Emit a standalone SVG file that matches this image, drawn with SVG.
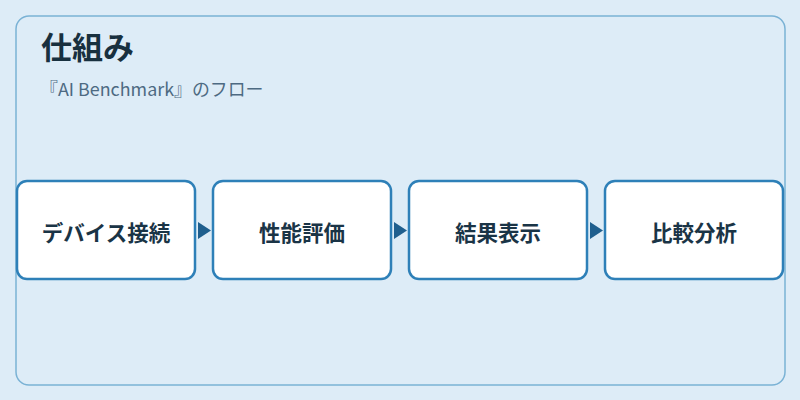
<svg xmlns="http://www.w3.org/2000/svg" width="800" height="400" viewBox="0 0 800 400">
<defs>
<style>
.node rect{fill:#ffffff;stroke:#2e80b8;stroke-width:2.5}
.node text{font-family:"Noto Sans CJK JP","Noto Sans",sans-serif;font-size:21.5px;font-weight:bold;fill:#1a3446;text-anchor:middle;dominant-baseline:central}
.arrow{fill:#1f5f8e}
</style>
</defs>
<rect width="800" height="400" fill="#ddecf7"/>
<rect x="16" y="16" width="769" height="369" rx="13" fill="#ddecf7" stroke="#7ab2d5" stroke-width="1.5"/>
<text x="41" y="59" font-family="'Noto Sans CJK JP','Noto Sans',sans-serif" font-size="31" font-weight="bold" fill="#18303f">仕組み</text>
<text x="40" y="96" font-family="'Noto Sans CJK JP','Noto Sans',sans-serif" font-size="17.9" fill="#4d6a82">『AI Benchmark』のフロー</text>
<g id="connectors">
<polygon class="arrow" points="198,222 211,230.5 198,239"/>
<polygon class="arrow" points="394,222 407,230.5 394,239"/>
<polygon class="arrow" points="590,222 603,230.5 590,239"/>
</g>
<g id="node1" class="node"><rect x="17" y="181" width="178" height="98" rx="10"/><text x="106" y="231">デバイス接続</text></g>
<g id="node2" class="node"><rect x="213" y="181" width="178" height="98" rx="10"/><text x="302" y="231">性能評価</text></g>
<g id="node3" class="node"><rect x="409" y="181" width="178" height="98" rx="10"/><text x="498" y="231">結果表示</text></g>
<g id="node4" class="node"><rect x="605" y="181" width="178" height="98" rx="10"/><text x="694" y="231">比較分析</text></g>
</svg>
